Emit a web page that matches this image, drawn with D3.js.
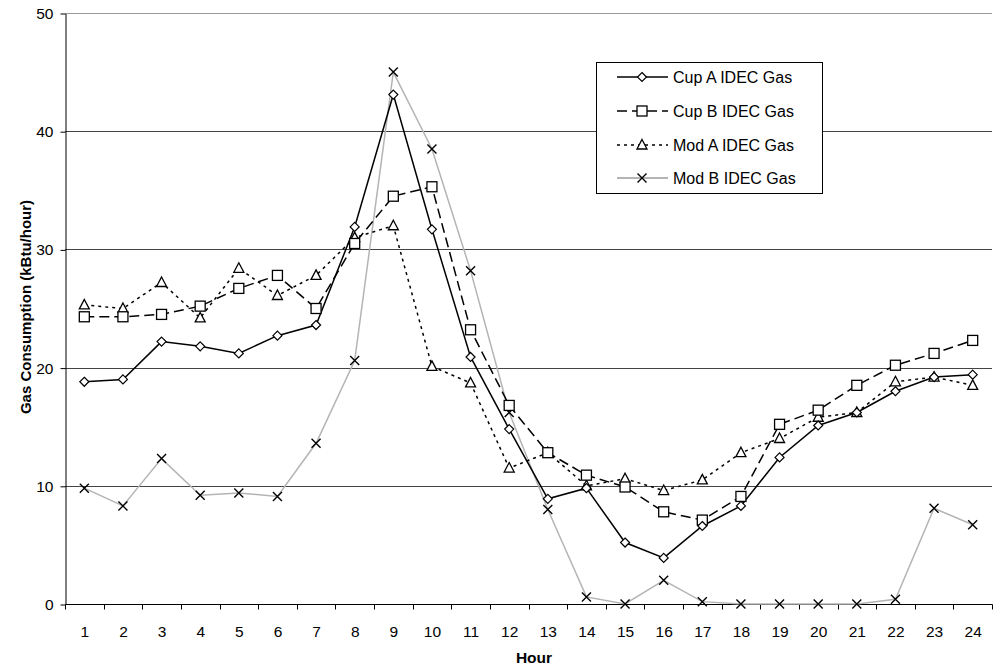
<!DOCTYPE html>
<html>
<head>
<meta charset="utf-8">
<script src="https://cdn.jsdelivr.net/npm/d3@7/dist/d3.min.js"></script>
<style>
  body { margin: 0; background: #fff; }
  svg { display: block; font-family: "Liberation Sans", Arial, sans-serif; }
</style>
</head>
<body>
<svg id="chart" width="993" height="670"></svg>
<script>
const hours = ["1","2","3","4","5","6","7","8","9","10","11","12","13","14","15","16","17","18","19","20","21","22","23","24"];
const cupA = [18.8,19.0,22.2,21.8,21.2,22.7,23.6,31.9,43.1,31.7,20.9,14.8,8.9,9.8,5.2,3.9,6.6,8.3,12.4,15.1,16.2,18.0,19.2,19.4];
const cupB = [24.3,24.3,24.5,25.2,26.7,27.8,25.0,30.5,34.5,35.3,23.2,16.8,12.8,10.9,9.9,7.8,7.1,9.1,15.2,16.4,18.5,20.2,21.2,22.3];
const modA = [25.3,25.0,27.2,24.2,28.4,26.1,27.8,31.0,32.0,20.1,18.7,11.5,12.8,10.0,10.6,9.6,10.5,12.8,14.0,15.8,16.2,18.8,19.2,18.5];
const modB = [9.8,8.3,12.3,9.2,9.4,9.1,13.6,20.6,45.0,38.5,28.2,16.2,8.0,0.6,0.0,2.0,0.2,0.0,0.0,0.0,0.0,0.4,8.1,6.7];
const yTicks = [0,10,20,30,40,50];
const seriesNames = ["Cup A IDEC Gas","Cup B IDEC Gas","Mod A IDEC Gas","Mod B IDEC Gas"];

const series = [
  {name: seriesNames[0], values: cupA, color: "#000", width: 1.5, dash: null, marker: "diamond"},
  {name: seriesNames[1], values: cupB, color: "#000", width: 1.5, dash: "10,5", marker: "square"},
  {name: seriesNames[2], values: modA, color: "#000", width: 1.5, dash: "3,4", marker: "triangle"},
  {name: seriesNames[3], values: modB, color: "#b4b4b4", width: 1.5, dash: null, marker: "cross"}
];

const svg = d3.select("#chart");
const m = {left: 65, right: 1, top: 13, bottom: 66};
const W = 993, H = 670;
const FONT = 15.5;

const x = d3.scaleBand().domain(hours).range([m.left, W - m.right]).paddingInner(0).paddingOuter(0);
const y = d3.scaleLinear().domain([0, 50]).range([H - m.bottom, m.top]);
const cx = d => x(d) + x.bandwidth() / 2;

// gridlines
svg.append("g").selectAll("line").data(yTicks.filter(t => t > 0)).join("line")
  .attr("x1", m.left).attr("x2", W - m.right)
  .attr("y1", d => Math.round(y(d)) + 0.5).attr("y2", d => Math.round(y(d)) + 0.5)
  .attr("stroke", d => d === 50 ? "#999" : "#444").attr("stroke-width", 1);

// y axis
const yAxis = d3.axisLeft(y).tickValues(yTicks).tickSize(5).tickSizeOuter(0).tickPadding(7);
const gy = svg.append("g").attr("transform", `translate(${m.left + 0.5},0.5)`).call(yAxis);
gy.select(".domain").attr("stroke", "#000");
gy.selectAll(".tick line").attr("stroke", "#000");
gy.selectAll("text").attr("font-size", FONT).attr("fill", "#000").attr("font-family", "Liberation Sans, Arial, sans-serif");

// x axis: ticks at category boundaries
const gx = svg.append("g").attr("transform", `translate(0.5,${Math.round(y(0)) + 0.5})`);
gx.append("line").attr("x1", m.left).attr("x2", W - m.right).attr("stroke", "#000");
const bounds = hours.map(h => x(h)).concat([W - m.right]);
gx.selectAll("line.tk").data(bounds).join("line").attr("class", "tk")
  .attr("x1", d => Math.round(d)).attr("x2", d => Math.round(d)).attr("y1", 0).attr("y2", 5).attr("stroke", "#000");
gx.selectAll("text").data(hours).join("text")
  .attr("x", d => cx(d)).attr("y", 32).attr("text-anchor", "middle")
  .attr("font-size", FONT).attr("fill", "#000").text(d => d);

// axis titles
svg.append("text").attr("x", 534).attr("y", 663).attr("text-anchor", "middle")
  .attr("font-size", 15.5).attr("font-weight", "bold").text("Hour");
svg.append("text").attr("transform", `translate(31,307) rotate(-90)`)
  .attr("text-anchor", "middle").attr("font-size", 15).attr("font-weight", "bold")
  .text("Gas Consumption (kBtu/hour)");

// marker drawer
function drawMarker(g, type, px, py) {
  if (type === "diamond") {
    g.append("path").attr("d", `M${px},${py-4.5}L${px+4.5},${py}L${px},${py+4.5}L${px-4.5},${py}Z`)
      .attr("fill", "#fff").attr("stroke", "#000").attr("stroke-width", 1.2);
  } else if (type === "square") {
    g.append("rect").attr("x", px - 5).attr("y", py - 5).attr("width", 10).attr("height", 10)
      .attr("fill", "#fff").attr("stroke", "#000").attr("stroke-width", 1.3);
  } else if (type === "triangle") {
    g.append("path").attr("d", `M${px},${py-5.5}L${px+5},${py+4}L${px-5},${py+4}Z`)
      .attr("fill", "#fff").attr("stroke", "#000").attr("stroke-width", 1.3);
  } else if (type === "cross") {
    g.append("path").attr("d", `M${px-4.5},${py-4.5}L${px+4.5},${py+4.5}M${px+4.5},${py-4.5}L${px-4.5},${py+4.5}`)
      .attr("fill", "none").attr("stroke", "#000").attr("stroke-width", 1.4);
  }
}

const line = d3.line();

// draw lines (Mod B first so it is behind)
const order = [3, 2, 1, 0];
order.forEach(i => {
  const s = series[i];
  const pts = s.values.map((v, k) => [cx(hours[k]), y(v)]);
  svg.append("path").attr("d", line(pts)).attr("fill", "none")
    .attr("stroke", s.color).attr("stroke-width", s.width)
    .attr("stroke-dasharray", s.dash);
});
order.forEach(i => {
  const s = series[i];
  const g = svg.append("g");
  s.values.forEach((v, k) => drawMarker(g, s.marker, cx(hours[k]), y(v)));
});

// legend
const lg = svg.append("g");
lg.append("rect").attr("x", 596.5).attr("y", 62.5).attr("width", 226).attr("height", 131)
  .attr("fill", "#fff").attr("stroke", "#000").attr("stroke-width", 1);
const legY = [77, 111, 145, 178];
series.forEach((s, i) => {
  const ly = legY[i];
  lg.append("line").attr("x1", 617).attr("x2", 668).attr("y1", ly).attr("y2", ly)
    .attr("stroke", s.color).attr("stroke-width", i === 3 ? 2 : 1.5)
    .attr("stroke-dasharray", s.dash);
  drawMarker(lg, s.marker, 642, ly);
  lg.append("text").attr("x", 673).attr("y", ly + 5.5).attr("font-size", 16).attr("fill", "#000").text(s.name);
});
</script>
</body>
</html>
